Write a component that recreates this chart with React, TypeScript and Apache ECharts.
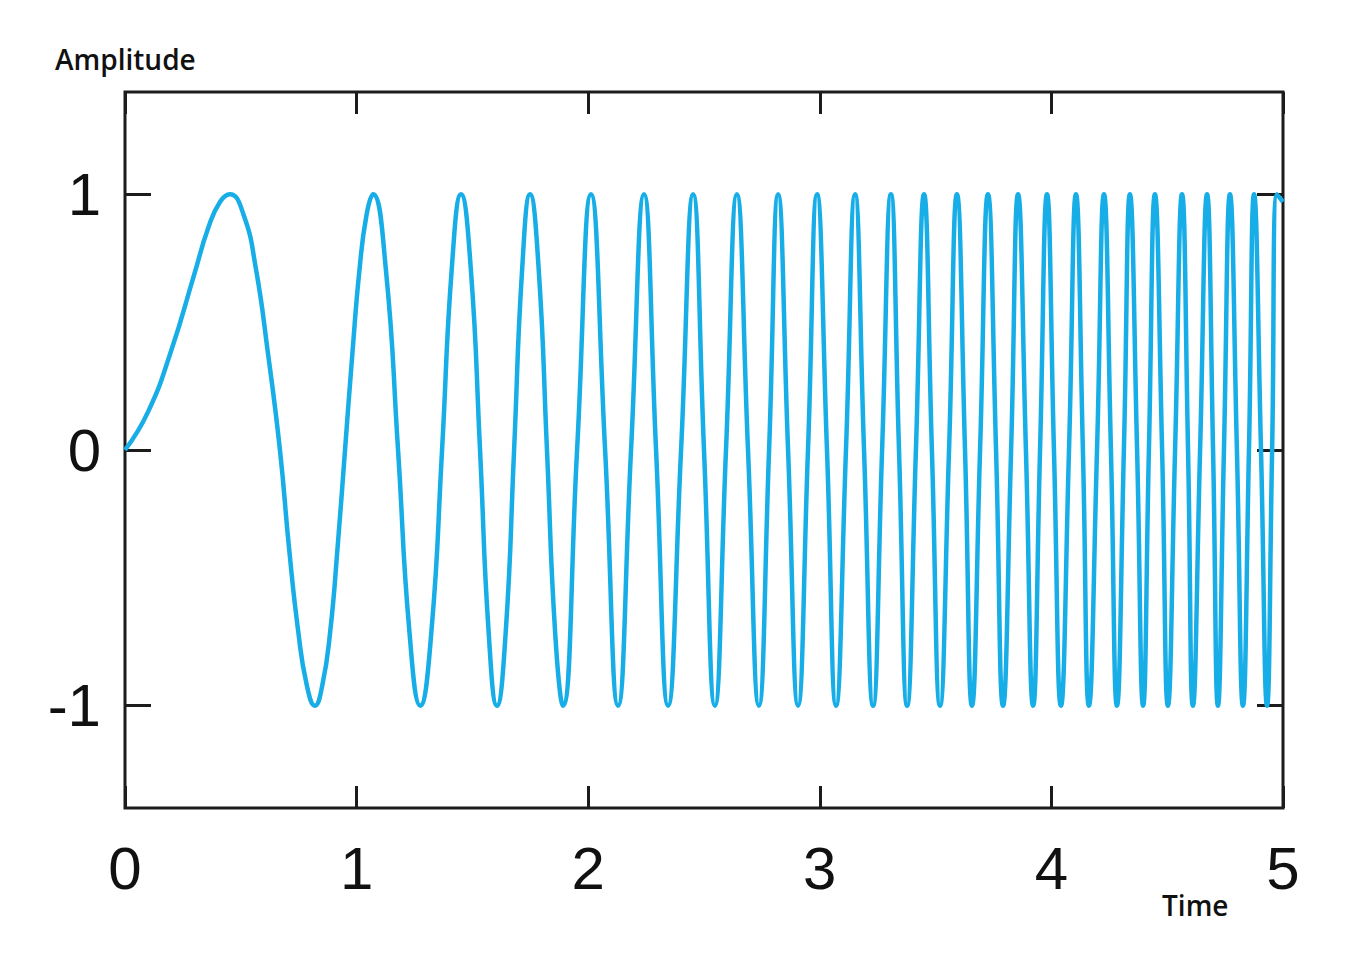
import React, { useEffect, useRef } from "react";
import * as echarts from "echarts";

// Time values (s): the start of the rise, then the
// extremes, zero crossings and (in the wide first cycles) intermediate crossings.
const timeValues = [
  0, 0.1, 0.2, 0.3, 0.36, 0.41,
  0.453, 0.512, 0.565, 0.617, 0.669, 0.708, 0.748, 0.785, 0.82,
  0.852, 0.886, 0.918, 0.95, 0.982, 1.013, 1.043, 1.071,
  1.126, 1.179, 1.228, 1.275, 1.323, 1.369, 1.411, 1.451, 1.493, 1.533, 1.57,
  1.606, 1.644, 1.68, 1.715, 1.749, 1.786, 1.822, 1.857, 1.891,
  1.952, 2.012, 2.073, 2.129, 2.185, 2.241, 2.293,
  2.345, 2.401, 2.453, 2.5, 2.547, 2.595, 2.642, 2.69, 2.737, 2.781, 2.82,
  2.863, 2.906, 2.949, 2.988, 3.031, 3.07, 3.113, 3.152, 3.191, 3.23, 3.269,
  3.307, 3.342, 3.377, 3.415, 3.45, 3.484, 3.519, 3.558, 3.592, 3.627, 3.657,
  3.692, 3.726, 3.761, 3.791, 3.826, 3.856, 3.89, 3.921, 3.951, 3.981, 4.011,
  4.041, 4.076, 4.106, 4.136, 4.162, 4.197, 4.227, 4.257, 4.283, 4.313, 4.339,
  4.37, 4.396, 4.421, 4.447, 4.478, 4.503, 4.534, 4.564, 4.59, 4.611, 4.642,
  4.672, 4.698, 4.719, 4.745, 4.771, 4.801, 4.827, 4.853, 4.875, 4.905, 4.931,
  4.953, 4.974, 5.0,
];

const amplitudeValues = [
  0, 0.15, 0.39, 0.69, 0.87, 0.97,
  1, 0.92, 0.71, 0.38, 0, -0.38, -0.71, -0.92, -1,
  -0.92, -0.71, -0.38, 0, 0.38, 0.71, 0.92, 1,
  0.71, 0, -0.71, -1, -0.71, 0, 0.71, 1, 0.71, 0, -0.71,
  -1, -0.71, 0, 0.71, 1, 0.71, 0, -0.71, -1,
  0, 1, 0, -1, 0, 1, 0,
  -1, 0, 1, 0, -1, 0, 1, 0, -1, 0, 1,
  0, -1, 0, 1, 0, -1, 0, 1, 0, -1, 0,
  1, 0, -1, 0, 1, 0, -1, 0, 1, 0, -1,
  0, 1, 0, -1, 0, 1, 0, -1, 0, 1, 0,
  -1, 0, 1, 0, -1, 0, 1, 0, -1, 0, 1,
  0, -1, 0, 1, 0, -1, 0, 1, 0, -1, 0,
  1, 0, -1, 0, 1, 0, -1, 0, 1, 0, -1,
  0, 1, 0.97,
];

const xTickLabels = ["0", "1", "2", "3", "4", "5"];
const yTickValues = [-1, 0, 1];
const yTickLabels = ["-1", "0", "1"];

const yAxisTitle = "Amplitude";
const xAxisTitle = "Time";

export default function App() {
  const ref = useRef<HTMLDivElement>(null);

  useEffect(() => {
    if (!ref.current) return;
    const chart = echarts.init(ref.current, undefined, { renderer: "svg" });

    const black = "#1c1c1c";
    const tickStyle = { color: black, width: 3 };
    const labelFont = "Liberation Sans, Arial, sans-serif";

    const data = timeValues.map((t, i) => [t, amplitudeValues[i]]);

    const option: any = {
      animation: false,
      backgroundColor: "#ffffff",
      grid: {
        left: 125,
        right: 75,
        top: 92,
        bottom: 165,
        show: true,
        borderColor: black,
        borderWidth: 3,
        backgroundColor: "transparent",
      },
      xAxis: [
        {
          type: "value",
          min: 0,
          max: 5,
          interval: 1,
          position: "bottom",
          axisLine: { show: false, onZero: false },
          axisTick: { show: true, inside: true, length: 22, lineStyle: tickStyle },
          axisLabel: {
            fontSize: 60,
            color: "#111",
            margin: 30,
            fontFamily: labelFont,
            formatter: (v: number) => xTickLabels[Math.round(v)],
          },
          splitLine: { show: false },
        },
        {
          type: "value",
          min: 0,
          max: 5,
          interval: 1,
          position: "top",
          axisLine: { show: false, onZero: false },
          axisTick: { show: true, inside: true, length: 22, lineStyle: tickStyle },
          axisLabel: { show: false },
          splitLine: { show: false },
        },
      ],
      yAxis: [
        {
          type: "value",
          min: -1.4,
          max: 1.4,
          position: "left",
          axisLine: { show: false, onZero: false },
          axisTick: {
            show: true,
            inside: true,
            length: 26,
            lineStyle: tickStyle,
            customValues: yTickValues,
          },
          axisLabel: {
            customValues: yTickValues,
            fontSize: 60,
            color: "#111",
            margin: 24,
            fontFamily: labelFont,
            formatter: (v: number) => yTickLabels[yTickValues.indexOf(Math.round(v))],
          },
          splitLine: { show: false },
        },
        {
          type: "value",
          min: -1.4,
          max: 1.4,
          position: "right",
          axisLine: { show: false, onZero: false },
          axisTick: {
            show: true,
            inside: true,
            length: 26,
            lineStyle: tickStyle,
            customValues: yTickValues,
          },
          axisLabel: { show: false },
          splitLine: { show: false },
        },
      ],
      graphic: [
        {
          type: "text",
          left: 55,
          top: 45,
          style: {
            text: yAxisTitle,
            fontSize: 28,
            fontWeight: 600,
            fontFamily: "Open Sans, sans-serif",
            fill: "#111",
          },
        },
        {
          type: "text",
          left: 1162,
          top: 891,
          style: {
            text: xAxisTitle,
            fontSize: 28,
            fontWeight: 600,
            fontFamily: "Open Sans, sans-serif",
            fill: "#111",
          },
        },
      ],
      series: [
        {
          type: "line",
          xAxisIndex: 0,
          yAxisIndex: 0,
          data,
          showSymbol: false,
          smooth: 0.5,
          lineStyle: { color: "#17ade6", width: 4.5 },
        },
      ],
    };

    chart.setOption(option);
    return () => chart.dispose();
  }, []);

  return (
    <div
      ref={ref}
      style={{ position: "fixed", left: 0, top: 0, width: 1358, height: 973, background: "#fff" }}
    />
  );
}
